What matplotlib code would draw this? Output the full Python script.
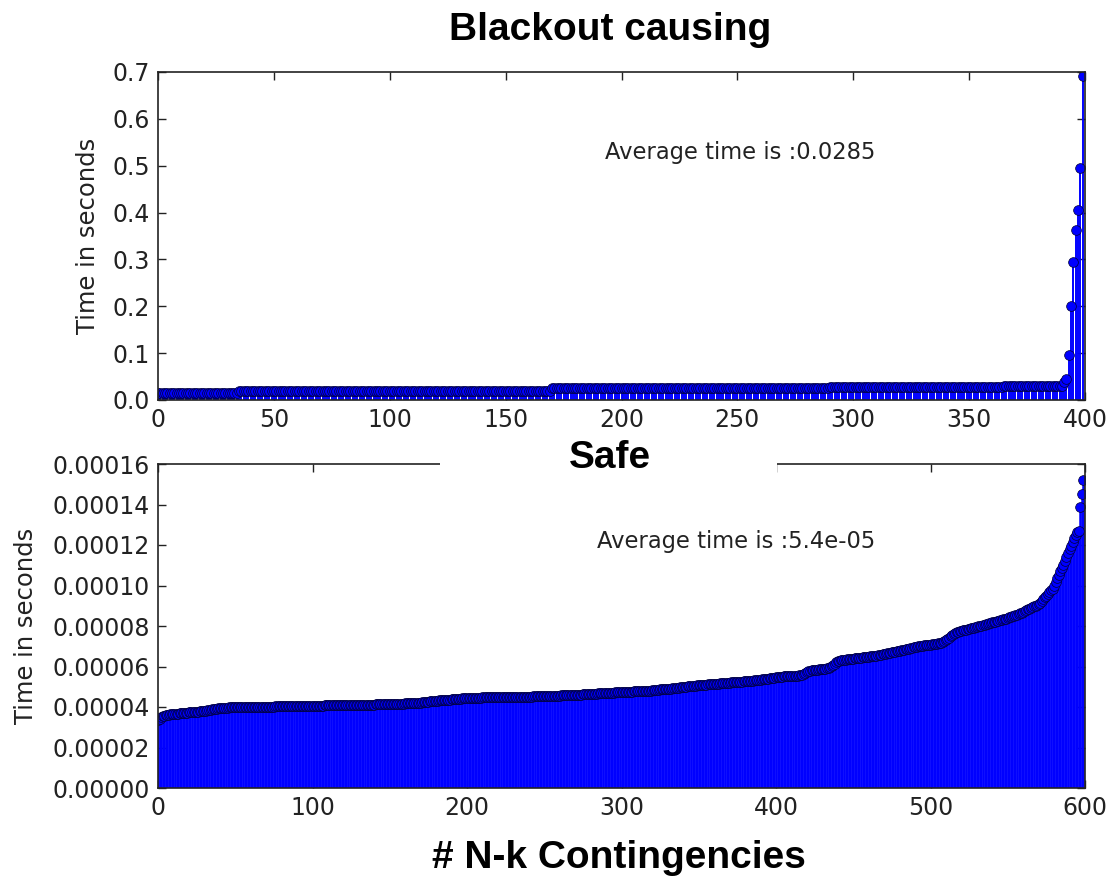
import numpy as np
import matplotlib
matplotlib.use("Agg")
import matplotlib.pyplot as plt
from matplotlib.ticker import FormatStrFormatter
from matplotlib.patches import Rectangle

# Solve times (s) of the blackout-causing N-k contingencies, sorted ascending
blackout_times = ([0.015] * 35 + [0.020] * 135 + [0.025] * 120 + [0.027] * 75
                  + [0.029] * 26
                  + [0.038, 0.045, 0.095, 0.200, 0.295, 0.363, 0.405, 0.495, 0.692])
blackout_avg_label = "Average time is :0.0285"

# Solve times of the safe contingencies, in microseconds, sorted ascending
safe_times_us = [
    33.5, 34.3, 35.0, 35.4, 35.7, 36.0, 36.1, 36.2, 36.3, 36.4, 36.5, 36.6, 36.7, 36.7, 36.8, 36.9, 37.0, 37.1, 37.2, 37.2,
    37.3, 37.4, 37.4, 37.5, 37.6, 37.7, 37.7, 37.8, 37.9, 37.9, 38.0, 38.1, 38.3, 38.4, 38.6, 38.8, 38.9, 39.1, 39.2, 39.4,
    39.5, 39.6, 39.6, 39.7, 39.7, 39.7, 39.8, 39.8, 39.8, 39.8, 39.9, 39.9, 39.9, 39.9, 39.9, 40.0, 40.0, 40.0, 40.0, 40.0,
    40.0, 40.0, 40.1, 40.1, 40.1, 40.1, 40.1, 40.1, 40.1, 40.2, 40.2, 40.2, 40.2, 40.2, 40.2, 40.2, 40.3, 40.3, 40.3, 40.3,
    40.3, 40.3, 40.3, 40.4, 40.4, 40.4, 40.4, 40.4, 40.4, 40.5, 40.5, 40.5, 40.5, 40.5, 40.5, 40.6, 40.6, 40.6, 40.6, 40.6,
    40.6, 40.6, 40.7, 40.7, 40.7, 40.7, 40.7, 40.7, 40.8, 40.8, 40.8, 40.8, 40.8, 40.8, 40.8, 40.9, 40.9, 40.9, 40.9, 40.9,
    40.9, 40.9, 40.9, 41.0, 41.0, 41.0, 41.0, 41.0, 41.0, 41.0, 41.0, 41.1, 41.1, 41.1, 41.1, 41.1, 41.2, 41.2, 41.2, 41.2,
    41.2, 41.3, 41.3, 41.3, 41.3, 41.3, 41.4, 41.4, 41.4, 41.4, 41.4, 41.5, 41.5, 41.5, 41.5, 41.5, 41.6, 41.6, 41.7, 41.7,
    41.8, 41.8, 41.9, 41.9, 42.0, 42.0, 42.1, 42.1, 42.1, 42.2, 42.2, 42.3, 42.4, 42.5, 42.6, 42.7, 42.8, 42.9, 43.0, 43.1,
    43.2, 43.2, 43.3, 43.3, 43.4, 43.5, 43.5, 43.6, 43.7, 43.7, 43.8, 43.8, 43.9, 43.9, 44.0, 44.1, 44.1, 44.2, 44.2, 44.3,
    44.3, 44.4, 44.4, 44.5, 44.5, 44.6, 44.6, 44.6, 44.6, 44.6, 44.7, 44.7, 44.7, 44.7, 44.7, 44.7, 44.8, 44.8, 44.8, 44.8,
    44.8, 44.8, 44.8, 44.9, 44.9, 44.9, 44.9, 44.9, 44.9, 44.9, 45.0, 45.0, 45.0, 45.0, 45.0, 45.0, 45.0, 45.1, 45.1, 45.1,
    45.1, 45.1, 45.1, 45.2, 45.2, 45.2, 45.2, 45.3, 45.3, 45.3, 45.3, 45.4, 45.4, 45.4, 45.5, 45.5, 45.5, 45.6, 45.6, 45.6,
    45.6, 45.7, 45.7, 45.7, 45.8, 45.8, 45.8, 45.8, 45.9, 45.9, 45.9, 46.0, 46.0, 46.1, 46.1, 46.2, 46.2, 46.3, 46.3, 46.4,
    46.4, 46.5, 46.5, 46.6, 46.6, 46.7, 46.7, 46.8, 46.8, 46.9, 46.9, 47.0, 47.0, 47.0, 47.1, 47.1, 47.2, 47.2, 47.3, 47.3,
    47.4, 47.4, 47.4, 47.5, 47.5, 47.5, 47.6, 47.6, 47.7, 47.7, 47.7, 47.8, 47.8, 47.8, 47.8, 47.9, 47.9, 48.0, 48.0, 48.1,
    48.2, 48.3, 48.4, 48.5, 48.6, 48.7, 48.7, 48.8, 48.9, 49.0, 49.0, 49.1, 49.1, 49.2, 49.3, 49.4, 49.5, 49.6, 49.7, 49.8,
    49.9, 50.0, 50.1, 50.2, 50.3, 50.3, 50.4, 50.5, 50.6, 50.7, 50.7, 50.8, 50.9, 51.0, 51.0, 51.1, 51.2, 51.2, 51.3, 51.3,
    51.4, 51.5, 51.5, 51.6, 51.7, 51.7, 51.8, 51.9, 51.9, 52.0, 52.0, 52.1, 52.2, 52.2, 52.3, 52.3, 52.4, 52.5, 52.5, 52.6,
    52.7, 52.7, 52.8, 52.9, 52.9, 53.0, 53.1, 53.2, 53.3, 53.4, 53.5, 53.6, 53.7, 53.8, 53.9, 54.0, 54.1, 54.3, 54.4, 54.5,
    54.7, 54.8, 54.9, 55.0, 55.0, 55.1, 55.1, 55.2, 55.2, 55.3, 55.3, 55.4, 55.4, 55.5, 55.5, 55.6, 55.7, 55.8, 56.2, 56.8,
    57.4, 57.8, 58.0, 58.1, 58.2, 58.3, 58.4, 58.5, 58.6, 58.7, 58.8, 58.9, 59.0, 59.1, 59.3, 59.7, 60.2, 60.8, 61.4, 62.0,
    62.5, 62.8, 63.0, 63.2, 63.3, 63.4, 63.5, 63.6, 63.7, 63.8, 63.9, 64.0, 64.1, 64.2, 64.3, 64.4, 64.5, 64.6, 64.7, 64.8,
    64.9, 65.0, 65.1, 65.2, 65.2, 65.3, 65.5, 65.7, 65.8, 66.0, 66.2, 66.3, 66.5, 66.7, 66.8, 67.0, 67.2, 67.3, 67.5, 67.7,
    67.8, 68.0, 68.2, 68.3, 68.5, 68.7, 68.8, 69.0, 69.2, 69.4, 69.6, 69.8, 69.9, 70.0, 70.2, 70.3, 70.4, 70.5, 70.6, 70.7,
    70.8, 70.9, 71.0, 71.1, 71.2, 71.4, 71.5, 71.7, 72.0, 72.4, 72.9, 73.5, 74.2, 74.9, 75.6, 76.2, 76.6, 77.0, 77.2, 77.4,
    77.6, 77.8, 78.0, 78.2, 78.4, 78.6, 78.8, 79.0, 79.2, 79.4, 79.6, 79.8, 80.0, 80.2, 80.4, 80.6, 80.8, 81.0, 81.3, 81.6,
    81.8, 82.0, 82.2, 82.4, 82.6, 82.8, 83.0, 83.3, 83.5, 83.7, 84.0, 84.2, 84.5, 84.8, 85.0, 85.3, 85.5, 85.8, 86.2, 86.6,
    87.0, 87.4, 87.8, 88.2, 88.6, 89.0, 89.4, 89.8, 90.1, 90.3, 90.8, 91.5, 92.3, 93.2, 94.1, 95.0, 95.9, 96.8, 97.7, 98.5,
    100.0, 101.8, 103.6, 105.4, 107.2, 108.8, 110.0, 112.0, 114.0, 116.0, 118.0, 119.5, 121.5, 123.5, 125.0, 126.5, 127.0, 139.0, 145.0, 152.0,
]
safe_avg_label = "Average time is :5.4e-05"

top_xticks = [0, 50, 100, 150, 200, 250, 300, 350, 400]
top_yticks = [0.0, 0.1, 0.2, 0.3, 0.4, 0.5, 0.6, 0.7]
bottom_xticks = [0, 100, 200, 300, 400, 500, 600]
bottom_yticks = [0.0, 0.00002, 0.00004, 0.00006, 0.00008, 0.00010, 0.00012, 0.00014, 0.00016]

BLUE = "#0000ff"
TICK_FS = 17
LABEL_FS = 17.5
TITLE_FONT = dict(family="Liberation Sans", weight="bold", size=28)

fig = plt.figure(figsize=(11.16, 8.84), dpi=100)
W, H = 1116, 884


def px_axes(left, top, right, bottom):
    return fig.add_axes([left / W, 1 - bottom / H, (right - left) / W, (bottom - top) / H])


def stem_panel(ax, values, stem_lw):
    x = np.arange(len(values))
    markerline, stemlines, baseline = ax.stem(x, values, linefmt="-", markerfmt="o", basefmt=" ")
    stemlines.set_color(BLUE)
    stemlines.set_linewidth(stem_lw)
    markerline.set_color(BLUE)
    markerline.set_markersize(7)
    markerline.set_markeredgecolor("#000033")
    markerline.set_markeredgewidth(0.5)
    baseline.set_visible(False)


def style_axes(ax):
    ax.tick_params(direction="in", top=True, right=True, length=6, width=1,
                   labelsize=TICK_FS, pad=6, colors="#222222")
    for s in ax.spines.values():
        s.set_linewidth(1.2)
        s.set_color("#222222")


# Blackout-causing panel
ax1 = px_axes(158, 72, 1085, 400)
stem_panel(ax1, np.array(blackout_times), 1.4)
ax1.set_xlim(0, 400)
ax1.set_ylim(0, 0.7)
ax1.set_xticks(top_xticks)
ax1.set_yticks(top_yticks)
ax1.yaxis.set_major_formatter(FormatStrFormatter("%.1f"))
style_axes(ax1)
ax1.set_ylabel("Time in seconds", fontsize=LABEL_FS, color="#222222", labelpad=9)
ax1.text(0.482, 0.756, blackout_avg_label, transform=ax1.transAxes,
         fontsize=16.3, va="center", ha="left", color="#222222")

# Safe panel
ax2 = px_axes(158, 464, 1085, 788)
stem_panel(ax2, np.array(safe_times_us) * 1e-6, 1.8)
ax2.set_xlim(0, 600)
ax2.set_ylim(0, 0.00016)
ax2.set_xticks(bottom_xticks)
ax2.set_yticks(bottom_yticks)
ax2.yaxis.set_major_formatter(FormatStrFormatter("%.5f"))
style_axes(ax2)
ax2.set_ylabel("Time in seconds", fontsize=LABEL_FS, color="#222222", labelpad=10)
ax2.text(0.4736, 0.762, safe_avg_label, transform=ax2.transAxes,
         fontsize=16.3, va="center", ha="left", color="#222222")

# Panel headings and shared x label
fig.text(610 / W, 1 - 30 / H, "Blackout causing", ha="center", va="center", **TITLE_FONT)
fig.patches.append(Rectangle((440 / W, 1 - 476 / H), (777 - 440) / W, 30 / H,
                             transform=fig.transFigure, facecolor="white",
                             edgecolor="none", zorder=5))
fig.text(610 / W, 1 - 458 / H, "Safe", ha="center", va="center", zorder=6, **TITLE_FONT)
fig.text(619 / W, 1 - 858 / H, "# N-k Contingencies", ha="center", va="center", **TITLE_FONT)

fig.savefig("out.png", dpi=100)
